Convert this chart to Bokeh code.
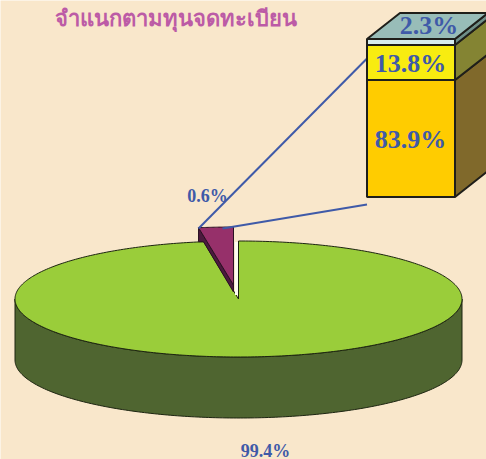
import numpy as np
from bokeh.plotting import figure
from bokeh.core.properties import value
from bokeh.embed import file_html
from bokeh.resources import INLINE

# Content
title_text = "จำแนกตามทุนจดทะเบียน"
pie_labels = ["99.4%", "0.6%"]
pie_drawn_shares = [97.5, 2.5]      # the picture exaggerates the small slice
bar_labels = ["83.9%", "13.8%", "2.3%"]
bar_drawn_shares = [74.0, 22.2, 3.8]  # the picture's band heights
bar_colors = ["#FFCC00", "#F8EC10", "#D8EEF0"]
bar_side_colors = ["#80692B", "#848433", "#6F8F88"]

BG = "#F9E7CB"
BLUE = "#3F5AA8"
W, H = 486, 459
p = figure(width=W, height=H, x_range=(0, W), y_range=(H, 0), output_backend="svg",
           toolbar_location=None, background_fill_color=BG, border_fill_color=BG,
           outline_line_color=None, min_border=0)
p.axis.visible = False
p.grid.visible = False

# ---- pie ----
cx, cy, rx, ry, depth = 238.0, 298.5, 223.5, 58.0, 61.0
ex, ey = -5.0, -14.0       # explode offset of the small slice
small_depth = 14.0

def rim(t):
    return cx + rx * np.sin(t), cy - ry * np.cos(t)

# side wall
t = np.linspace(np.pi / 2, 3 * np.pi / 2, 200)
xs, ys = rim(t)
p.patch(np.r_[xs, xs[::-1]], np.r_[ys, ys[::-1] + depth], fill_color="#4F6530",
        line_color="#1C2410", line_width=1)

# main slice
end = 2 * np.pi * pie_drawn_shares[0] / 100
t = np.linspace(0, end, 400)
xs, ys = rim(t)
p.patch(np.r_[cx, xs], np.r_[cy, ys], fill_color="#9ACD3A", line_color="#1C2410", line_width=1)
# pale wall beside the gap
p.segment([cx - 2], [ys[0] + 1], [cx - 2], [cy - 4], line_color="#FFFDF2", line_width=3)
p.segment([cx], [ys[0]], [cx], [cy], line_color="#1C2410", line_width=1)

# exploded slice
t = np.linspace(end, 2 * np.pi, 30)
xs, ys = rim(t)
xs, ys = xs + ex, ys + ey
ax, ay = cx + ex, cy + ey
p.patch([xs[0], xs[0], xs[0] + 5, ax, ax], [ys[0], ys[0] + small_depth, ys[0] + small_depth, ay + 7, ay],
        fill_color="#4C1A3E", line_color="#2A1022", line_width=1)
p.patch(np.r_[ax, xs], np.r_[ay, ys], fill_color="#96306A", line_color="#2A1022", line_width=1)

# connector lines
p.line([198, 366.5], [228, 58], line_color=BLUE, line_width=2)
p.line([222, 366.5], [228, 204], line_color=BLUE, line_width=2)

# ---- stacked box ----
bx0, bx1, bbot, bh = 366.5, 454.5, 196.5, 158.0
dx, dy = 33.0, -26.0
frac = np.array(bar_drawn_shares) / 100 * bh
tops = bbot - np.cumsum(frac)
bots = tops + frac
EDGE = "#1F1F1A"
for b, tp, c, sc in zip(bots, tops, bar_colors, bar_side_colors):
    p.patch([bx1, bx1 + dx, bx1 + dx, bx1], [b, b + dy, tp + dy, tp], fill_color=sc,
            line_color=EDGE, line_width=2)
    p.patch([bx0, bx1, bx1, bx0], [b, b, tp, tp], fill_color=c, line_color=EDGE, line_width=2)
top = tops[-1]
p.patch([bx0, bx1, bx1 + dx, bx0 + dx], [top, top, top + dy, top + dy], fill_color="#98BDB8",
        line_color=EDGE, line_width=2)

# ---- texts ----
serif = value("Liberation Serif")
p.text([410, 410, 428.5], [138.5, 63, 25], text=bar_labels, text_font=serif, text_font_style="bold",
       text_font_size="26px", text_color=BLUE, text_align="center", text_baseline="middle")
p.text([265, 207], [450, 195], text=pie_labels, text_font=serif, text_font_style="bold",
       text_font_size="18px", text_color=BLUE, text_align="center", text_baseline="middle")
p.text([175], [16.5], text=[title_text], text_font=value("Noto Sans"), text_font_style="bold",
       text_font_size="22px", text_color="#BC5BA6", text_align="center", text_baseline="middle")

html = file_html(p, INLINE)
open("out.html", "w").write(html)
